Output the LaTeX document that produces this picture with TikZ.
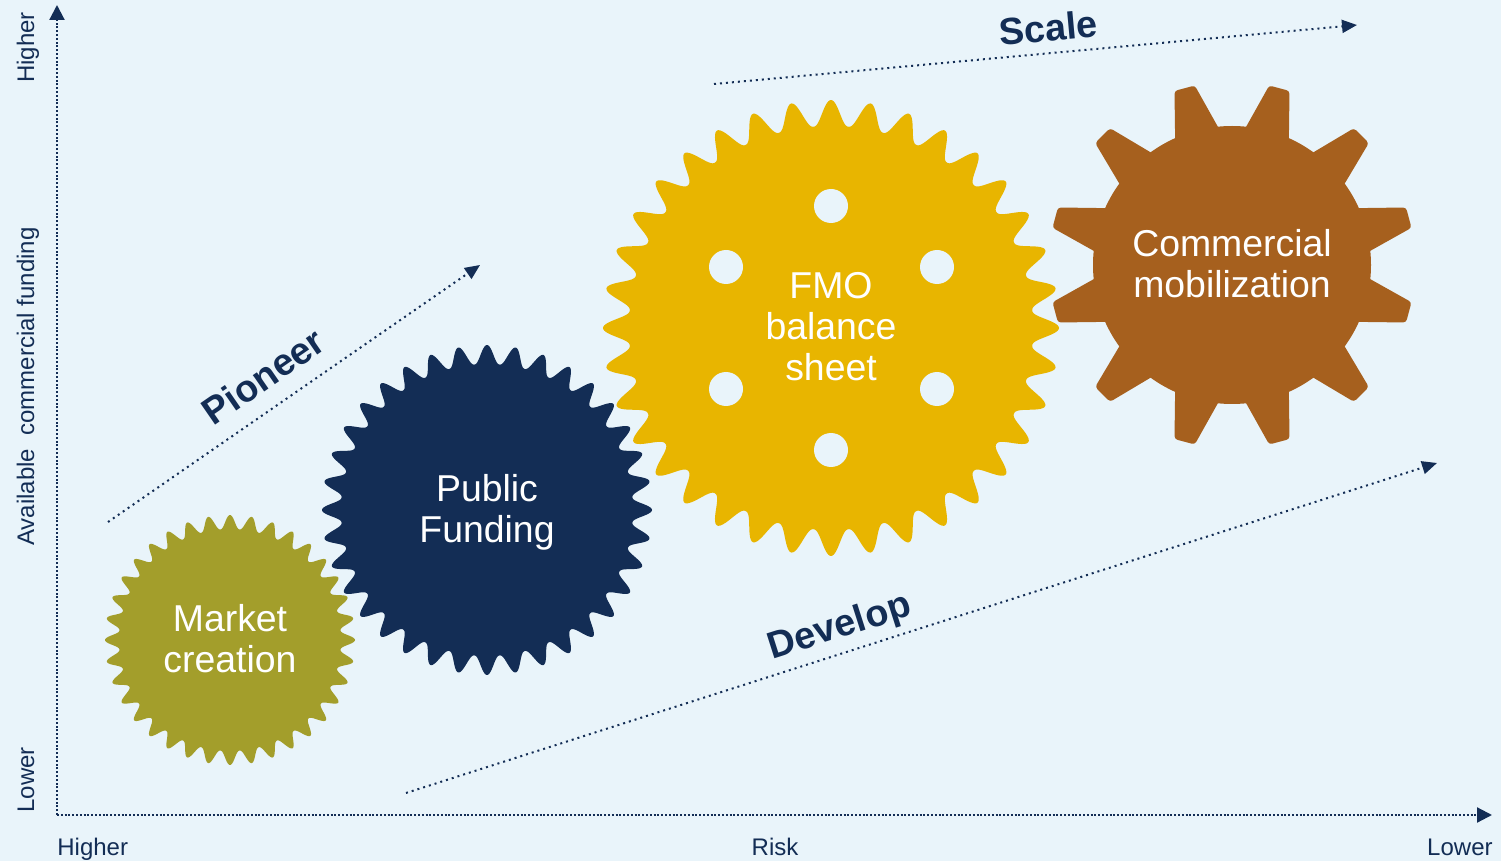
\documentclass[tikz,border=0pt]{standalone}
\usepackage{fontspec}
\setmainfont{Liberation Sans}
\usetikzlibrary{arrows.meta}
\definecolor{bgc}{HTML}{E9F4FA}
\definecolor{navy}{HTML}{132D55}
\definecolor{olivec}{HTML}{A39E2B}
\definecolor{goldc}{HTML}{E8B500}
\definecolor{brownc}{HTML}{A6601E}
\newcommand\wavygear[5]{%
  \fill[#5] plot[domain=0:360,samples=1081,variable=\t]
    ({#1+(#3+#4*((1.0001+cos(36*\t))/2.0001)^1.15)*cos(\t)},
     {#2+(#3+#4*((1.0001+cos(36*\t))/2.0001)^1.15)*sin(\t)}) -- cycle;}
\begin{document}
\begin{tikzpicture}[x=0.5pt,y=-0.5pt,
  gtext/.style={text=white,font=\fontsize{18.7}{20.5}\selectfont,align=center,inner sep=0pt},
  axlabel/.style={text=navy,font=\fontsize{12}{14}\selectfont,inner sep=0pt},
  biglabel/.style={text=navy,font=\bfseries\fontsize{18.9}{20}\selectfont,inner sep=0pt},
  axisline/.style={navy,line width=1.1pt,dash pattern=on 1pt off 0.9pt,-{Triangle[length=7.5pt,width=7.5pt]}},
  dotarrow/.style={navy,line width=1pt,dash pattern=on 1pt off 2pt,-{Triangle[length=7.5pt,width=6.5pt]}}]
\fill[bgc] (0,0) rectangle (1501,861);
\useasboundingbox (0,0) rectangle (1501,861);

% axes
\coordinate (o) at (57,815);
\coordinate (ytop) at (57,5);
\coordinate (xend) at (1492,815);
\draw[axisline] (o) -- (ytop);
\draw[axisline] (o) -- (xend);

\node[axlabel,anchor=base west] (xh) at (57,855) {Higher};
\node[axlabel,anchor=base] (xr) at (775,855) {Risk};
\node[axlabel,anchor=base east] (xl) at (1493,855) {Lower};
\node[axlabel,anchor=base,rotate=90] (yh) at (34,47.5) {Higher};
\node[axlabel,anchor=base,rotate=90] (ya) at (34,386.5) {Available\ \ commercial funding};
\node[axlabel,anchor=base,rotate=90] (yl) at (34,780) {Lower};

% gears
\wavygear{230}{640}{111}{14}{olivec}
\wavygear{487}{510}{146}{19}{navy}
\wavygear{831}{328}{202}{26}{goldc}
\foreach \hx/\hy in {831/206,726/267,937/267,726/389,937/389,831/450}
  \fill[bgc] (\hx,\hy) circle[radius=8.5pt];

\begin{scope}[shift={(1232,265)}]
  \fill[brownc] (0,0) circle[radius=69.5pt];
  \foreach \a in {15,45,...,345}
    \fill[brownc,rotate=\a,rounded corners=1.5pt] (118,-27) -- (183,-10.5) -- (183,10.5) -- (118,27) -- cycle;
\end{scope}

\node[gtext] (mc) at (230,638.5) {Market\\creation};
\node[gtext] (pf) at (487,512) {Public\\Funding};
\node[gtext] (fmo) at (831,326.5) {FMO\\balance\\sheet};
\node[gtext] (cm) at (1232,264) {Commercial\\mobilization};

% trend arrows
\coordinate (pa) at (108,522);
\coordinate (pb) at (480,265);
\coordinate (sa) at (714,84);
\coordinate (sb) at (1357,25);
\coordinate (da) at (406,793);
\coordinate (db) at (1437,463);
\draw[dotarrow] (pa) -- (pb);
\draw[dotarrow] (sa) -- (sb);
\draw[dotarrow] (da) -- (db);

\node[biglabel,rotate=34.6] (pio) at (263,376) {Pioneer};
\node[biglabel,rotate=5.2] (sc) at (1048,28) {Scale};
\node[biglabel,rotate=17.7] (dev) at (840,628) {Develop};
\end{tikzpicture}
\end{document}
